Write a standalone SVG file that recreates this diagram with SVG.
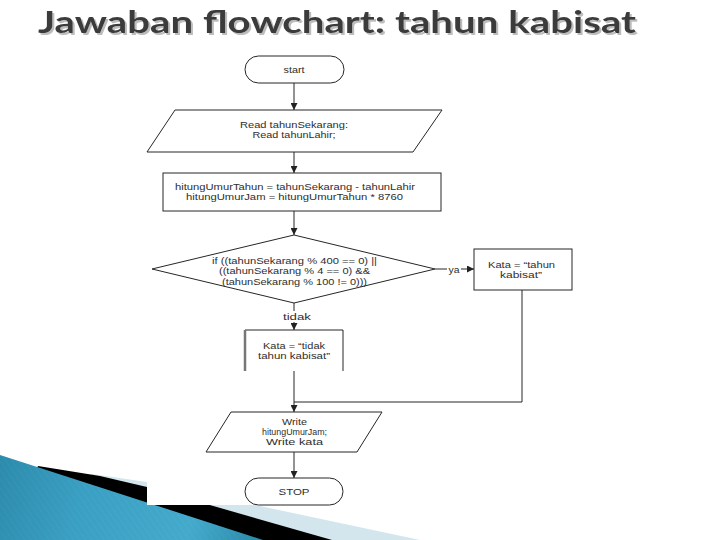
<svg xmlns="http://www.w3.org/2000/svg" width="720" height="540" viewBox="0 0 720 540">
  <defs>
    <linearGradient id="blueGrad" x1="0" y1="0" x2="420" y2="120" gradientUnits="userSpaceOnUse">
      <stop offset="0" stop-color="#1a6f8d"/>
      <stop offset="0.5" stop-color="#3aa0c3"/>
      <stop offset="0.75" stop-color="#44aacc"/>
      <stop offset="1" stop-color="#1c7896"/>
    </linearGradient>
    <pattern id="stripes" width="5" height="5" patternUnits="userSpaceOnUse" patternTransform="rotate(-35)">
      <line x1="0" y1="0" x2="0" y2="5" stroke="#ffffff" stroke-opacity="0.08" stroke-width="0.8"/>
    </pattern>
    <filter id="titleShadow" x="-5%" y="-20%" width="110%" height="150%">
      <feOffset in="SourceAlpha" dx="2" dy="2" result="off"/>
      <feFlood flood-color="#bdbdbd"/>
      <feComposite in2="off" operator="in" result="sh"/>
      <feMerge>
        <feMergeNode in="sh"/>
        <feMergeNode in="SourceGraphic"/>
      </feMerge>
    </filter>
    <marker id="arrow" viewBox="0 0 10 10" refX="10" refY="5" markerWidth="7" markerHeight="7" markerUnits="userSpaceOnUse" orient="auto">
      <path d="M0,0 L10,5 L0,10 z" fill="#222"/>
    </marker>
    <style>
      .title { font-family: Lato, "Open Sans", "DejaVu Sans", sans-serif; font-weight: 700; font-size: 31px; fill: #3b3b3b; }
      .shape { fill: #ffffff; stroke: #262626; stroke-width: 1; }
      .lbl { font-family: "Liberation Sans", Arial, sans-serif; font-size: 8.8px; fill: #2e2e2e; text-anchor: middle; }
      .edge { fill: none; stroke: #262626; stroke-width: 1; }
    </style>
  </defs>

  <rect width="720" height="540" fill="#ffffff"/>

  <!-- bottom-left decoration -->
  <g id="decoration">
    <polygon points="92,474 147,482 420,540 0,540" fill="#d3e6ee"/>
    <polygon points="38,466 100,476 147,487 332,540 0,540" fill="#000000"/>
    <polygon points="0,455 263,540 0,540" fill="url(#blueGrad)"/>
    <polygon points="0,455 263,540 0,540" fill="url(#stripes)"/>
    <rect x="147" y="50" width="430" height="455" fill="#ffffff"/>
  </g>

  <!-- title -->
  <g id="title" filter="url(#titleShadow)">
    <text class="title" x="38" y="33" textLength="598" lengthAdjust="spacingAndGlyphs">Jawaban flowchart: tahun kabisat</text>
  </g>

  <!-- connectors -->
  <g id="connectors">
    <line class="edge" x1="294" y1="83" x2="294" y2="110" marker-end="url(#arrow)"/>
    <line class="edge" x1="294" y1="152" x2="294" y2="173" marker-end="url(#arrow)"/>
    <line class="edge" x1="294" y1="211" x2="294" y2="235" marker-end="url(#arrow)"/>
    <line class="edge" x1="435" y1="269" x2="474" y2="269" marker-end="url(#arrow)"/>
    <rect x="447" y="264" width="14" height="10" fill="#ffffff"/>
    <text class="lbl" x="454" y="273" textLength="11" lengthAdjust="spacingAndGlyphs">ya</text>
    <line class="edge" x1="294" y1="303" x2="294" y2="330" marker-end="url(#arrow)"/>
    <rect x="280" y="311" width="34" height="11" fill="#ffffff"/>
    <text class="lbl" x="297" y="320" textLength="28" lengthAdjust="spacingAndGlyphs">tidak</text>
    <line class="edge" x1="294" y1="371" x2="294" y2="412" marker-end="url(#arrow)"/>
    <polyline class="edge" points="522,290 522,402 294,402"/>
    <line class="edge" x1="294" y1="452" x2="294" y2="478" marker-end="url(#arrow)"/>
  </g>

  <g id="start">
    <rect class="shape" x="245" y="56" width="99" height="27" rx="13.5" ry="13.5"/>
    <text class="lbl" x="294" y="73" textLength="21" lengthAdjust="spacingAndGlyphs">start</text>
  </g>

  <g id="read">
    <polygon class="shape" points="175,110 442,110 413,152 147,152"/>
    <text class="lbl" x="294" y="128" textLength="108" lengthAdjust="spacingAndGlyphs">Read tahunSekarang:</text>
    <text class="lbl" x="294" y="138" textLength="83" lengthAdjust="spacingAndGlyphs">Read tahunLahir;</text>
  </g>

  <g id="hitung">
    <rect class="shape" x="163" y="173" width="278" height="38"/>
    <text class="lbl" x="295" y="190" textLength="240" lengthAdjust="spacingAndGlyphs">hitungUmurTahun = tahunSekarang - tahunLahir</text>
    <text class="lbl" x="294.5" y="200" textLength="217" lengthAdjust="spacingAndGlyphs">hitungUmurJam = hitungUmurTahun * 8760</text>
  </g>

  <g id="decision">
    <polygon class="shape" points="294,235 435,269 294,303 152,269"/>
    <text class="lbl" x="294.5" y="263.5" textLength="165" lengthAdjust="spacingAndGlyphs">if ((tahunSekarang % 400 == 0) ||</text>
    <text class="lbl" x="294.5" y="274" textLength="151" lengthAdjust="spacingAndGlyphs">((tahunSekarang % 4 == 0) &amp;&amp;</text>
    <text class="lbl" x="294.5" y="284.5" textLength="145" lengthAdjust="spacingAndGlyphs">(tahunSekarang % 100 != 0)))</text>
  </g>

  <g id="kabisat">
    <rect class="shape" x="474" y="249" width="98" height="41"/>
    <text class="lbl" x="521.5" y="268" textLength="67" lengthAdjust="spacingAndGlyphs">Kata = “tahun</text>
    <text class="lbl" x="521" y="278" textLength="42" lengthAdjust="spacingAndGlyphs">kabisat”</text>
  </g>

  <g id="tidakKabisat">
    <rect x="245" y="330" width="98" height="41" fill="#ffffff"/>
    <path d="M245,371 V330 H343 V371" fill="none" stroke="#262626" stroke-width="1"/>
    <line x1="245" y1="330" x2="245" y2="371" stroke="#777777" stroke-width="2.5"/>
    <text class="lbl" x="294" y="349" textLength="62" lengthAdjust="spacingAndGlyphs">Kata = “tidak</text>
    <text class="lbl" x="294" y="359" textLength="72" lengthAdjust="spacingAndGlyphs">tahun kabisat”</text>
  </g>

  <g id="write">
    <polygon class="shape" points="231,412 382,412 357,452 206,452"/>
    <text class="lbl" x="294.5" y="424.5" textLength="25" lengthAdjust="spacingAndGlyphs">Write</text>
    <text class="lbl" x="294.5" y="434.5" textLength="65" lengthAdjust="spacingAndGlyphs">hitungUmurJam;</text>
    <text class="lbl" x="294.5" y="444.5" textLength="57" lengthAdjust="spacingAndGlyphs">Write kata</text>
  </g>

  <g id="stop">
    <rect class="shape" x="245" y="478" width="98" height="27" rx="13.5" ry="13.5"/>
    <text class="lbl" x="294" y="494.5" textLength="31" lengthAdjust="spacingAndGlyphs">STOP</text>
  </g>
</svg>
